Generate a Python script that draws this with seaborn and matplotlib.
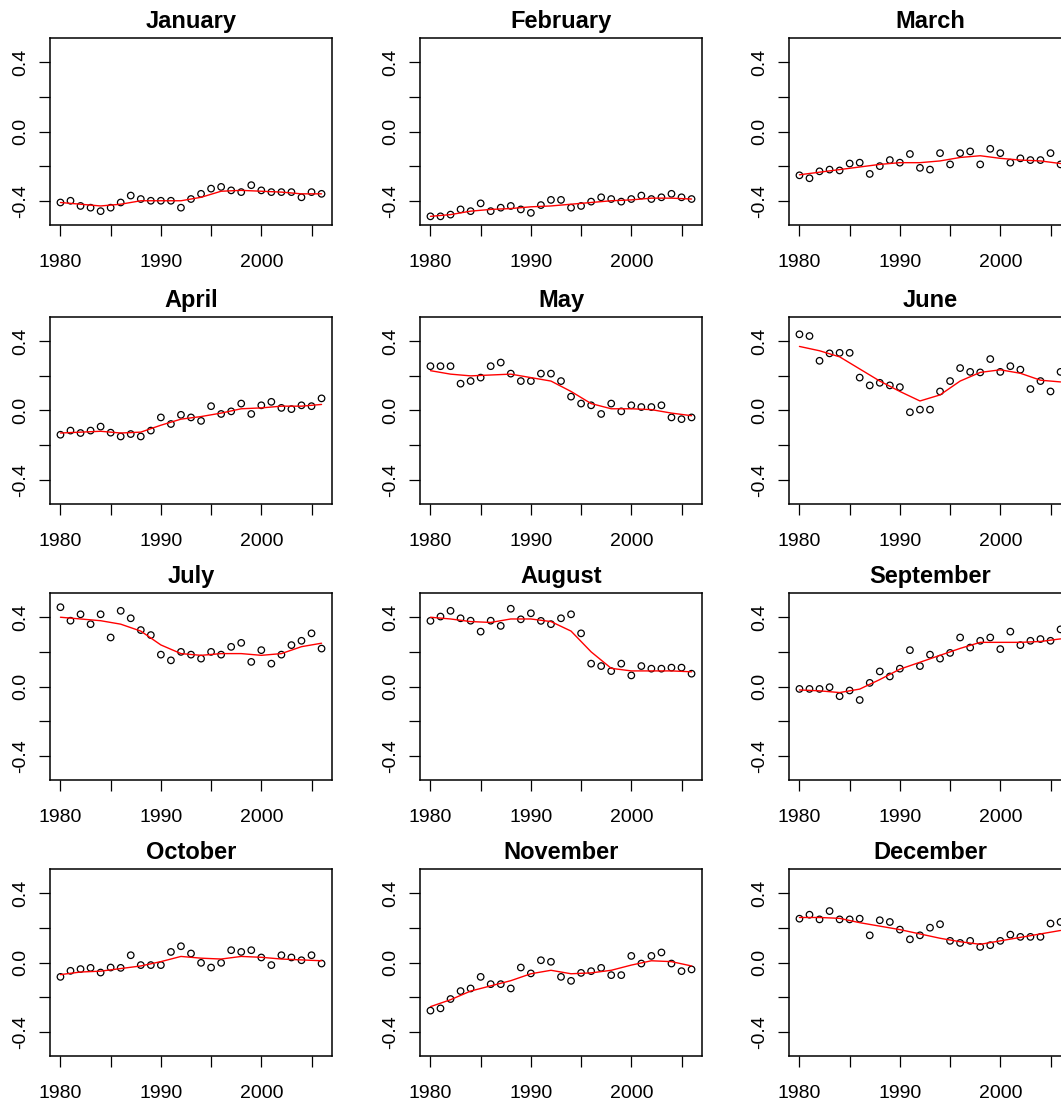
import matplotlib
matplotlib.use('Agg')
import matplotlib.pyplot as plt
import pandas as pd
import seaborn as sns

# yearly anomalies per month (points) and the smoothed fit (red line)
years = list(range(1980, 2007))
fit_years = list(range(1980, 2007, 2))

january = [-0.41, -0.40, -0.43, -0.44, -0.46, -0.44, -0.41, -0.37, -0.39, -0.40, -0.40, -0.40, -0.44, -0.39,
           -0.36, -0.33, -0.32, -0.34, -0.35, -0.31, -0.34, -0.35, -0.35, -0.35, -0.38, -0.35, -0.36]
january_fit = [-0.41, -0.42, -0.43, -0.42, -0.40, -0.40, -0.40, -0.38, -0.345, -0.34, -0.345, -0.35, -0.36, -0.36]

february = [-0.49, -0.49, -0.48, -0.45, -0.46, -0.415, -0.46, -0.44, -0.43, -0.45, -0.47, -0.425, -0.395, -0.395,
            -0.44, -0.43, -0.405, -0.38, -0.39, -0.405, -0.39, -0.37, -0.39, -0.38, -0.36, -0.38, -0.39]
february_fit = [-0.49, -0.48, -0.46, -0.45, -0.445, -0.435, -0.43, -0.42, -0.41, -0.40, -0.395, -0.385, -0.385, -0.39]

march = [-0.253, -0.27, -0.23, -0.22, -0.225, -0.185, -0.18, -0.245, -0.20, -0.165, -0.18, -0.13, -0.21, -0.22,
         -0.125, -0.19, -0.125, -0.115, -0.19, -0.10, -0.125, -0.18, -0.155, -0.165, -0.165, -0.125, -0.19]
march_fit = [-0.25, -0.235, -0.22, -0.205, -0.19, -0.18, -0.18, -0.17, -0.15, -0.14, -0.155, -0.165, -0.17, -0.185]

april = [-0.14, -0.116, -0.13, -0.116, -0.093, -0.128, -0.15, -0.136, -0.15, -0.116, -0.04, -0.078, -0.025, -0.04,
         -0.06, 0.025, -0.02, -0.005, 0.04, -0.02, 0.03, 0.05, 0.015, 0.008, 0.03, 0.025, 0.07]
april_fit = [-0.13, -0.125, -0.12, -0.13, -0.125, -0.085, -0.05, -0.035, -0.015, 0.01, 0.015, 0.025, 0.025, 0.035]

may = [0.256, 0.256, 0.256, 0.155, 0.17, 0.19, 0.256, 0.277, 0.213, 0.17, 0.17, 0.213, 0.213, 0.17,
       0.08, 0.04, 0.03, -0.02, 0.04, -0.005, 0.03, 0.02, 0.02, 0.03, -0.04, -0.05, -0.04]
may_fit = [0.23, 0.21, 0.20, 0.205, 0.21, 0.19, 0.17, 0.11, 0.04, 0.01, 0.01, 0.005, -0.015, -0.03]

june = [0.44, 0.43, 0.287, 0.33, 0.333, 0.333, 0.19, 0.145, 0.16, 0.145, 0.135, -0.01, 0.005, 0.005,
        0.11, 0.17, 0.245, 0.223, 0.22, 0.297, 0.223, 0.256, 0.236, 0.124, 0.17, 0.11, 0.223]
june_fit = [0.37, 0.345, 0.31, 0.24, 0.17, 0.11, 0.055, 0.09, 0.17, 0.22, 0.235, 0.215, 0.175, 0.165]

july = [0.458, 0.38, 0.417, 0.36, 0.417, 0.283, 0.437, 0.394, 0.326, 0.297, 0.184, 0.151, 0.20, 0.184,
        0.161, 0.20, 0.184, 0.229, 0.252, 0.142, 0.21, 0.132, 0.184, 0.239, 0.264, 0.307, 0.219]
july_fit = [0.40, 0.39, 0.38, 0.36, 0.32, 0.24, 0.19, 0.18, 0.19, 0.19, 0.18, 0.19, 0.23, 0.25]

august = [0.379, 0.404, 0.437, 0.394, 0.38, 0.317, 0.38, 0.35, 0.449, 0.388, 0.423, 0.379, 0.36, 0.394,
          0.417, 0.307, 0.132, 0.118, 0.089, 0.132, 0.064, 0.118, 0.103, 0.103, 0.109, 0.109, 0.074]
august_fit = [0.40, 0.39, 0.375, 0.37, 0.39, 0.39, 0.375, 0.32, 0.20, 0.105, 0.09, 0.09, 0.09, 0.085]

september = [-0.014, -0.014, -0.014, -0.004, -0.056, -0.023, -0.078, 0.021, 0.087, 0.058, 0.103, 0.21, 0.118, 0.184,
             0.161, 0.194, 0.283, 0.225, 0.264, 0.283, 0.216, 0.317, 0.239, 0.264, 0.274, 0.264, 0.33]
september_fit = [-0.02, -0.025, -0.035, -0.015, 0.04, 0.10, 0.14, 0.18, 0.22, 0.255, 0.255, 0.255, 0.26, 0.275]

october = [-0.083, -0.048, -0.038, -0.031, -0.058, -0.029, -0.031, 0.042, -0.015, -0.015, -0.015, 0.061, 0.094, 0.052,
           -0.002, -0.029, -0.002, 0.071, 0.061, 0.071, 0.029, -0.015, 0.042, 0.029, 0.013, 0.042, -0.006]
october_fit = [-0.07, -0.055, -0.05, -0.035, -0.02, 0.005, 0.035, 0.025, 0.02, 0.035, 0.03, 0.02, 0.015, 0.01]

november = [-0.278, -0.265, -0.211, -0.165, -0.15, -0.083, -0.125, -0.125, -0.15, -0.029, -0.063, 0.013, 0.004, -0.083,
            -0.106, -0.06, -0.05, -0.031, -0.073, -0.073, 0.038, -0.006, 0.038, 0.058, -0.006, -0.05, -0.04]
november_fit = [-0.255, -0.215, -0.165, -0.135, -0.105, -0.065, -0.045, -0.065, -0.06, -0.045, -0.015, 0.01, 0.005, -0.02]

december = [0.253, 0.276, 0.249, 0.297, 0.249, 0.249, 0.253, 0.157, 0.244, 0.234, 0.19, 0.134, 0.157, 0.201,
            0.221, 0.125, 0.113, 0.125, 0.09, 0.10, 0.125, 0.161, 0.148, 0.148, 0.148, 0.225, 0.234]
december_fit = [0.26, 0.26, 0.255, 0.23, 0.21, 0.19, 0.165, 0.14, 0.12, 0.105, 0.125, 0.145, 0.165, 0.185]

months = ['January', 'February', 'March', 'April', 'May', 'June',
          'July', 'August', 'September', 'October', 'November', 'December']
points = [january, february, march, april, may, june,
          july, august, september, october, november, december]
fits = [january_fit, february_fit, march_fit, april_fit, may_fit, june_fit,
        july_fit, august_fit, september_fit, october_fit, november_fit, december_fit]

xticks = [1980, 1985, 1990, 1995, 2000, 2005]
xticklabels = ['1980', '', '1990', '', '2000', '']
yticks = [-0.4, -0.2, 0.0, 0.2, 0.4]
yticklabels = ['-0.4', '', '0.0', '', '0.4']

sns.set_style('white')
plt.rcParams['font.family'] = ['Liberation Sans', 'DejaVu Sans']

W, H = 1061, 1102
fig = plt.figure(figsize=(W / 100, H / 100), dpi=100, facecolor='white')

# panel boxes in pixels (R-style par(mfrow=c(4,3)) layout, right column runs off the page)
col_left = [50, 420, 789]
row_top = [38, 317, 593, 869]
pw, ph = 282, 187

for k, name in enumerate(months):
    r, c = divmod(k, 3)
    ax = fig.add_axes([col_left[c] / W, 1 - (row_top[r] + ph) / H, pw / W, ph / H])
    pts = pd.DataFrame({'year': years, 'value': points[k]})
    fit = pd.DataFrame({'year': fit_years, 'value': fits[k]})
    sns.scatterplot(data=pts, x='year', y='value', ax=ax, marker='o', s=22,
                    facecolors='none', edgecolor='black', linewidth=0.9, zorder=2)
    sns.lineplot(data=fit, x='year', y='value', ax=ax, color='red', lw=1.0, zorder=3)
    ax.set_xlim(1978.96, 2007.04)
    ax.set_ylim(-0.54, 0.54)
    ax.set_xticks(xticks)
    ax.set_xticklabels(xticklabels, fontsize=14)
    ax.set_yticks(yticks)
    ax.set_yticklabels(yticklabels, fontsize=14, rotation=90, va='center')
    ax.tick_params(axis='both', direction='out', length=8, width=0.9, colors='black',
                   bottom=True, left=True)
    ax.tick_params(axis='x', pad=13)
    ax.tick_params(axis='y', pad=7)
    ax.set_xlabel('')
    ax.set_ylabel('')
    for sp in ax.spines.values():
        sp.set_color('black')
        sp.set_linewidth(1.1)
    ax.set_title(name, fontsize=17, fontweight='bold', color='black', pad=7)

fig.savefig('out.png', dpi=100, facecolor='white')
